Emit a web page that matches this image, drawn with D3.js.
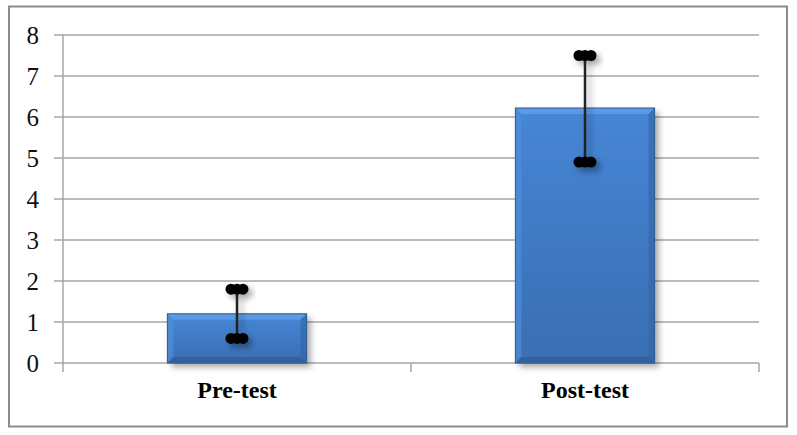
<!DOCTYPE html>
<html>
<head>
<meta charset="utf-8">
<script src="https://cdn.jsdelivr.net/npm/d3@7"></script>
<style>
  body { margin: 0; background: #fff; }
</style>
</head>
<body>
<div id="chart"></div>
<script>
// data
let categories = ["Pre-test", "Post-test"];
let means = [1.2, 6.22];
let lows = [0.6, 4.9];
let highs = [1.8, 7.5];
let yTicks = [0, 1, 2, 3, 4, 5, 6, 7, 8];

let width = 797,
    height = 435;

let margin = {top: 35, right: 38, bottom: 72, left: 63};

let svg = d3.select("#chart")
    .append("svg")
    .attr("width", width)
    .attr("height", height);

let defs = svg.append("defs");

let shadow = defs.append("filter")
    .attr("id", "shadow")
    .attr("x", "-20%").attr("y", "-20%")
    .attr("width", "150%").attr("height", "150%");
shadow.append("feDropShadow")
    .attr("dx", 4).attr("dy", 4)
    .attr("stdDeviation", 3)
    .attr("flood-color", "#000")
    .attr("flood-opacity", 0.35);

let grad = defs.append("linearGradient")
    .attr("id", "barFill")
    .attr("x1", 0).attr("y1", 0).attr("x2", 0).attr("y2", 1);
grad.append("stop").attr("offset", "0%").attr("stop-color", "#4686d6");
grad.append("stop").attr("offset", "100%").attr("stop-color", "#3a6eb2");

// outer frame
svg.append("rect")
    .attr("x", 9)
    .attr("y", 6.5)
    .attr("width", 778)
    .attr("height", 420)
    .attr("fill", "none")
    .attr("stroke", "#8c8c8c")
    .attr("stroke-width", 2);

let x = d3.scaleBand()
    .domain(categories)
    .range([margin.left, width - margin.right])
    .paddingInner(0)
    .paddingOuter(0);

let y = d3.scaleLinear()
    .domain([0, 8])
    .range([height - margin.bottom, margin.top]);

// grid lines
svg.append("g")
    .selectAll("line")
    .data(yTicks)
    .enter().append("line")
    .attr("x1", margin.left - 9)
    .attr("x2", width - margin.right)
    .attr("y1", d => y(d))
    .attr("y2", d => y(d))
    .attr("stroke", "#a6a6a6")
    .attr("stroke-width", 1.5);

// y axis line
svg.append("line")
    .attr("x1", margin.left).attr("x2", margin.left)
    .attr("y1", y(8)).attr("y2", y(0) + 9)
    .attr("stroke", "#a6a6a6")
    .attr("stroke-width", 1.5);

// category tick marks
let bandEdges = [x.range()[0], x(categories[1]), x.range()[1]];
svg.append("g")
    .selectAll("line")
    .data(bandEdges.slice(1))
    .enter().append("line")
    .attr("x1", d => d).attr("x2", d => d)
    .attr("y1", y(0)).attr("y2", y(0) + 9)
    .attr("stroke", "#a6a6a6")
    .attr("stroke-width", 1.5);

// y tick labels
svg.append("g")
    .selectAll("text")
    .data(yTicks)
    .enter().append("text")
    .attr("x", 39)
    .attr("y", d => y(d))
    .attr("dy", "0.34em")
    .attr("text-anchor", "end")
    .attr("font-family", "'Liberation Serif', 'Times New Roman', serif")
    .attr("font-size", 25)
    .attr("fill", "#111")
    .text(d => d);

// bars
let barW = x.bandwidth() * 0.4;
let bev = 6;
let bars = svg.append("g")
    .selectAll("g")
    .data(categories)
    .enter().append("g");

bars.each(function (c, i) {
    let g = d3.select(this);
    let x0 = x(c) + (x.bandwidth() - barW) / 2,
        x1 = x0 + barW,
        y0 = y(means[i]),
        y1 = y(0);
    g.append("rect")
        .attr("x", x0).attr("y", y0)
        .attr("width", barW).attr("height", y1 - y0)
        .attr("fill", "url(#barFill)")
        .attr("filter", "url(#shadow)");
    // bevel edges
    let faces = [
        {pts: [[x0, y0], [x1, y0], [x1 - bev, y0 + bev], [x0 + bev, y0 + bev]], fill: "#66a3ea"},
        {pts: [[x0, y0], [x0 + bev, y0 + bev], [x0 + bev, y1 - bev], [x0, y1]], fill: "#4f8fdb"},
        {pts: [[x1, y0], [x1, y1], [x1 - bev, y1 - bev], [x1 - bev, y0 + bev]], fill: "#3567a6"},
        {pts: [[x0, y1], [x1, y1], [x1 - bev, y1 - bev], [x0 + bev, y1 - bev]], fill: "#2f5c96"}
    ];
    g.selectAll("polygon")
        .data(faces)
        .enter().append("polygon")
        .attr("points", d => d.pts.map(p => p.join(",")).join(" "))
        .attr("fill", d => d.fill)
        .attr("opacity", 0.7);
    g.append("rect")
        .attr("x", x0).attr("y", y0)
        .attr("width", barW).attr("height", y1 - y0)
        .attr("fill", "none")
        .attr("stroke", "#2d5a93")
        .attr("stroke-width", 1);
});

// error bars
let errs = svg.append("g")
    .selectAll("g")
    .data(categories)
    .enter().append("g")
    .attr("filter", "url(#shadow)");

errs.each(function (c, i) {
    let g = d3.select(this);
    let cx = x(c) + x.bandwidth() / 2;
    g.append("line")
        .attr("x1", cx).attr("x2", cx)
        .attr("y1", y(highs[i])).attr("y2", y(lows[i]))
        .attr("stroke", "#222")
        .attr("stroke-width", 2.5);
    [lows[i], highs[i]].forEach(v => {
        g.selectAll(null)
            .data([-6, 0, 6])
            .enter().append("circle")
            .attr("cx", d => cx + d)
            .attr("cy", y(v))
            .attr("r", 5.5)
            .attr("fill", "#000");
    });
});

// category labels
svg.append("g")
    .selectAll("text")
    .data(categories)
    .enter().append("text")
    .attr("x", d => x(d) + x.bandwidth() / 2)
    .attr("y", y(0) + 35)
    .attr("text-anchor", "middle")
    .attr("font-family", "'Liberation Serif', 'Times New Roman', serif")
    .attr("font-weight", "bold")
    .attr("font-size", 24)
    .attr("fill", "#000")
    .text(d => d);
</script>
</body>
</html>
